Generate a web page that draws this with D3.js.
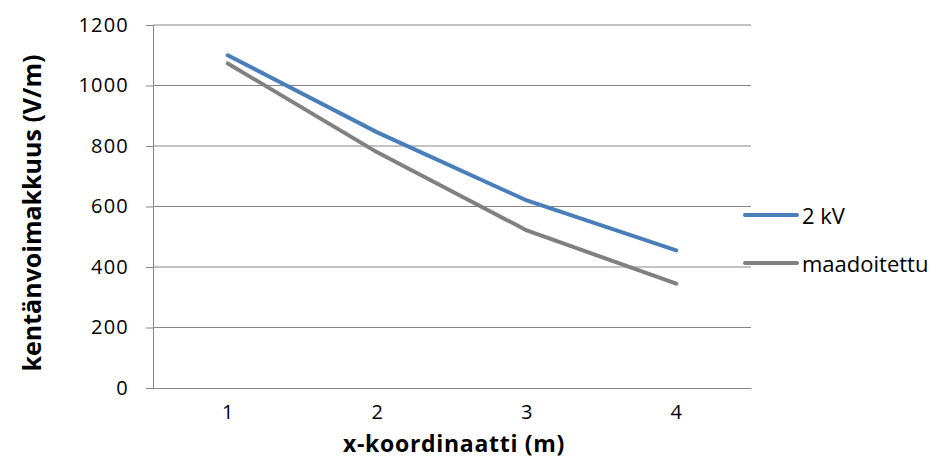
<!DOCTYPE html>
<html lang="fi">
<head>
<meta charset="UTF-8">
<title>Kentänvoimakkuus</title>
<script src="https://d3js.org/d3.v7.min.js"></script>
<style>
  body { margin: 0; background: #fff; }
</style>
</head>
<body>
<div id="chart"></div>
<script>
    // chart data
    const categories = ["1", "2", "3", "4"];
    const seriesNames = ["2 kV", "maadoitettu"];
    const kv2 = [1100, 845, 620, 455];
    const maadoitettu = [1073, 779, 521, 345];
    const yTicks = [0, 200, 400, 600, 800, 1000, 1200];
    const colors = ["#4a7ebb", "#808080"];

    const W = 941, H = 458;
    const margin = { top: 25, left: 153 };
    const width = 751 - margin.left;
    const height = 388 - margin.top;
    const font = "Open Sans, sans-serif";

    const svg = d3.select("#chart").append("svg")
        .attr("width", W).attr("height", H);
    const g = svg.append("g")
        .attr("transform", "translate(" + margin.left + "," + margin.top + ")");

    const x = d3.scaleBand().domain(categories).range([0, width]);
    const y = d3.scaleLinear().domain([0, 1200]).range([height, 0]);

    // gridlines
    g.append("g").selectAll("line").data(yTicks.filter(d => d > 0)).join("line")
        .attr("x1", 0).attr("x2", width)
        .attr("y1", d => y(d)).attr("y2", d => y(d))
        .attr("stroke", "#868686").attr("stroke-width", 1);

    // y axis
    const yAxis = g.append("g")
        .call(d3.axisLeft(y).tickValues(yTicks).tickFormat(d3.format("d"))
            .tickSize(7).tickPadding(17));
    yAxis.select(".domain").attr("stroke", "#868686");
    yAxis.selectAll(".tick line").attr("stroke", "#868686");
    yAxis.selectAll("text")
        .attr("font-family", font)
        .attr("font-size", 20)
        .attr("letter-spacing", 1.2)
        .attr("fill", "#000");

    // x axis
    const xAxis = g.append("g")
        .attr("transform", "translate(0," + height + ")")
        .call(d3.axisBottom(x).tickSize(0).tickPadding(17));
    xAxis.select(".domain").attr("stroke", "#868686");
    xAxis.selectAll("text")
        .attr("font-family", font)
        .attr("font-size", 20).attr("fill", "#000");

    const line = d3.line()
        .x((d, i) => x(categories[i]) + x.bandwidth() / 2)
        .y(d => y(d));

    [kv2, maadoitettu].forEach((s, i) => {
        g.append("path")
            .datum(s)
            .attr("fill", "none")
            .attr("stroke", colors[i])
            .attr("stroke-width", 4)
            .attr("stroke-linecap", "round")
            .attr("stroke-linejoin", "round")
            .attr("d", line);
    });

    // legend
    const legend = svg.append("g");
    seriesNames.forEach((name, i) => {
        const ly = 215 + i * 48;
        legend.append("line")
            .attr("x1", 745).attr("x2", 797)
            .attr("y1", ly).attr("y2", ly)
            .attr("stroke", colors[i]).attr("stroke-width", 4)
            .attr("stroke-linecap", "round");
        legend.append("text")
            .attr("x", 802).attr("y", ly + 9)
            .attr("font-family", font)
            .attr("font-size", 22)
            .text(name);
    });

    // axis titles
    svg.append("text")
        .attr("x", 454).attr("y", 452)
        .attr("text-anchor", "middle")
        .attr("font-family", font)
        .attr("font-weight", "bold")
        .attr("font-size", 23)
        .attr("letter-spacing", 0.7)
        .text("x-koordinaatti (m)");

    svg.append("text")
        .attr("transform", "translate(41,213) rotate(-90)")
        .attr("text-anchor", "middle")
        .attr("font-family", font)
        .attr("font-weight", "bold")
        .attr("font-size", 25)
        .text("kentänvoimakkuus (V/m)");
</script>
</body>
</html>
